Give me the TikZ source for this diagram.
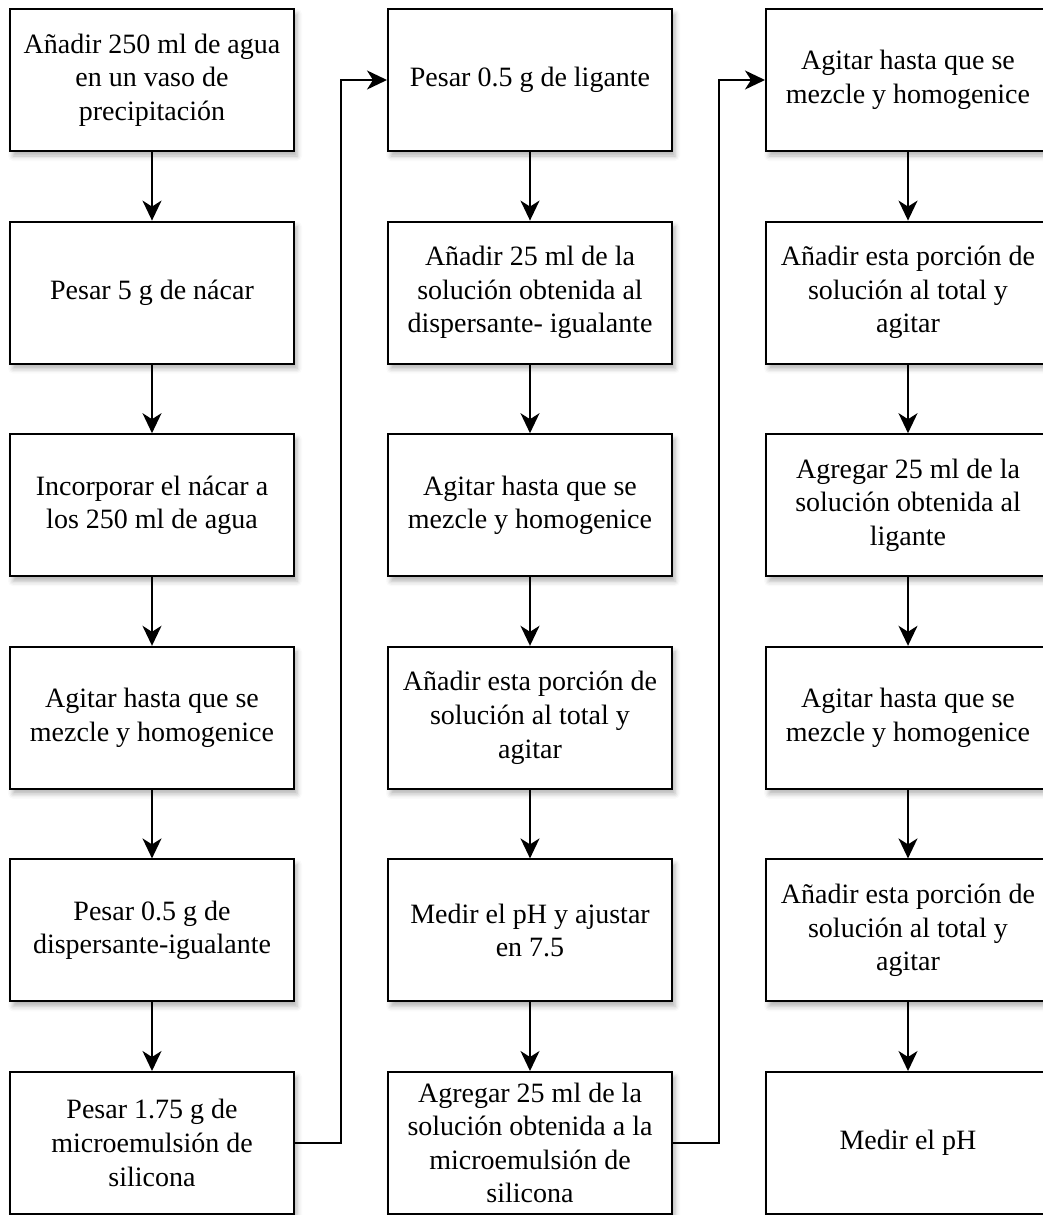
\documentclass[tikz,border=0pt]{standalone}
\usepackage{fontspec}
\setmainfont{Liberation Serif}
\usetikzlibrary{arrows.meta,shadows.blur}
\tikzset{
  stepbox/.style={draw=black, line width=2pt, fill=white, minimum width=284pt, minimum height=142pt,
    inner sep=0pt, align=center, font=\fontsize{28pt}{33.6pt}\selectfont,
    blur shadow={shadow xshift=3pt, shadow yshift=-5pt, shadow blur radius=5pt, shadow opacity=30}},
  conn/.style={draw=black, line width=2pt, -{Stealth[length=20pt, width=19pt, inset=6pt]}},
}
\begin{document}
\begin{tikzpicture}[x=1pt, y=-1pt]
\useasboundingbox (0,0) rectangle (1043,1215);
% column 1
\node[stepbox] (a1) at (152,80) {Añadir 250 ml de agua\\en un vaso de\\precipitación};
\node[stepbox] (a2) at (152,292.6) {Pesar 5 g de nácar};
\node[stepbox] (a3) at (152,505.2) {Incorporar el nácar a\\los 250 ml de agua};
\node[stepbox] (a4) at (152,717.8) {Agitar hasta que se\\mezcle y homogenice};
\node[stepbox] (a5) at (152,930.4) {Pesar 0.5 g de\\dispersante-igualante};
\node[stepbox] (a6) at (152,1143) {Pesar 1.75 g de\\microemulsión de\\silicona};
% column 2
\node[stepbox] (b1) at (530,80) {Pesar 0.5 g de ligante};
\node[stepbox] (b2) at (530,292.6) {Añadir 25 ml de la\\solución obtenida al\\dispersante- igualante};
\node[stepbox] (b3) at (530,505.2) {Agitar hasta que se\\mezcle y homogenice};
\node[stepbox] (b4) at (530,717.8) {Añadir esta porción de\\solución al total y\\agitar};
\node[stepbox] (b5) at (530,930.4) {Medir el pH y ajustar\\en 7.5};
\node[stepbox] (b6) at (530,1143) {Agregar 25 ml de la\\solución obtenida a la\\microemulsión de\\silicona};
% column 3
\node[stepbox] (c1) at (908,80) {Agitar hasta que se\\mezcle y homogenice};
\node[stepbox] (c2) at (908,292.6) {Añadir esta porción de\\solución al total y\\agitar};
\node[stepbox] (c3) at (908,505.2) {Agregar 25 ml de la\\solución obtenida al\\ligante};
\node[stepbox] (c4) at (908,717.8) {Agitar hasta que se\\mezcle y homogenice};
\node[stepbox] (c5) at (908,930.4) {Añadir esta porción de\\solución al total y\\agitar};
\node[stepbox] (c6) at (908,1143) {Medir el pH};
% vertical connectors
\foreach \c in {a,b,c}{
  \foreach \i/\j in {1/2,2/3,3/4,4/5,5/6}{
    \draw[conn] (\c\i.south) -- (\c\j.north);
  }
}
% column links
\draw[conn] (a6.east) -- (341,1143) -- (341,80) -- (b1.west);
\draw[conn] (b6.east) -- (719,1143) -- (719,80) -- (c1.west);
\end{tikzpicture}
\end{document}
